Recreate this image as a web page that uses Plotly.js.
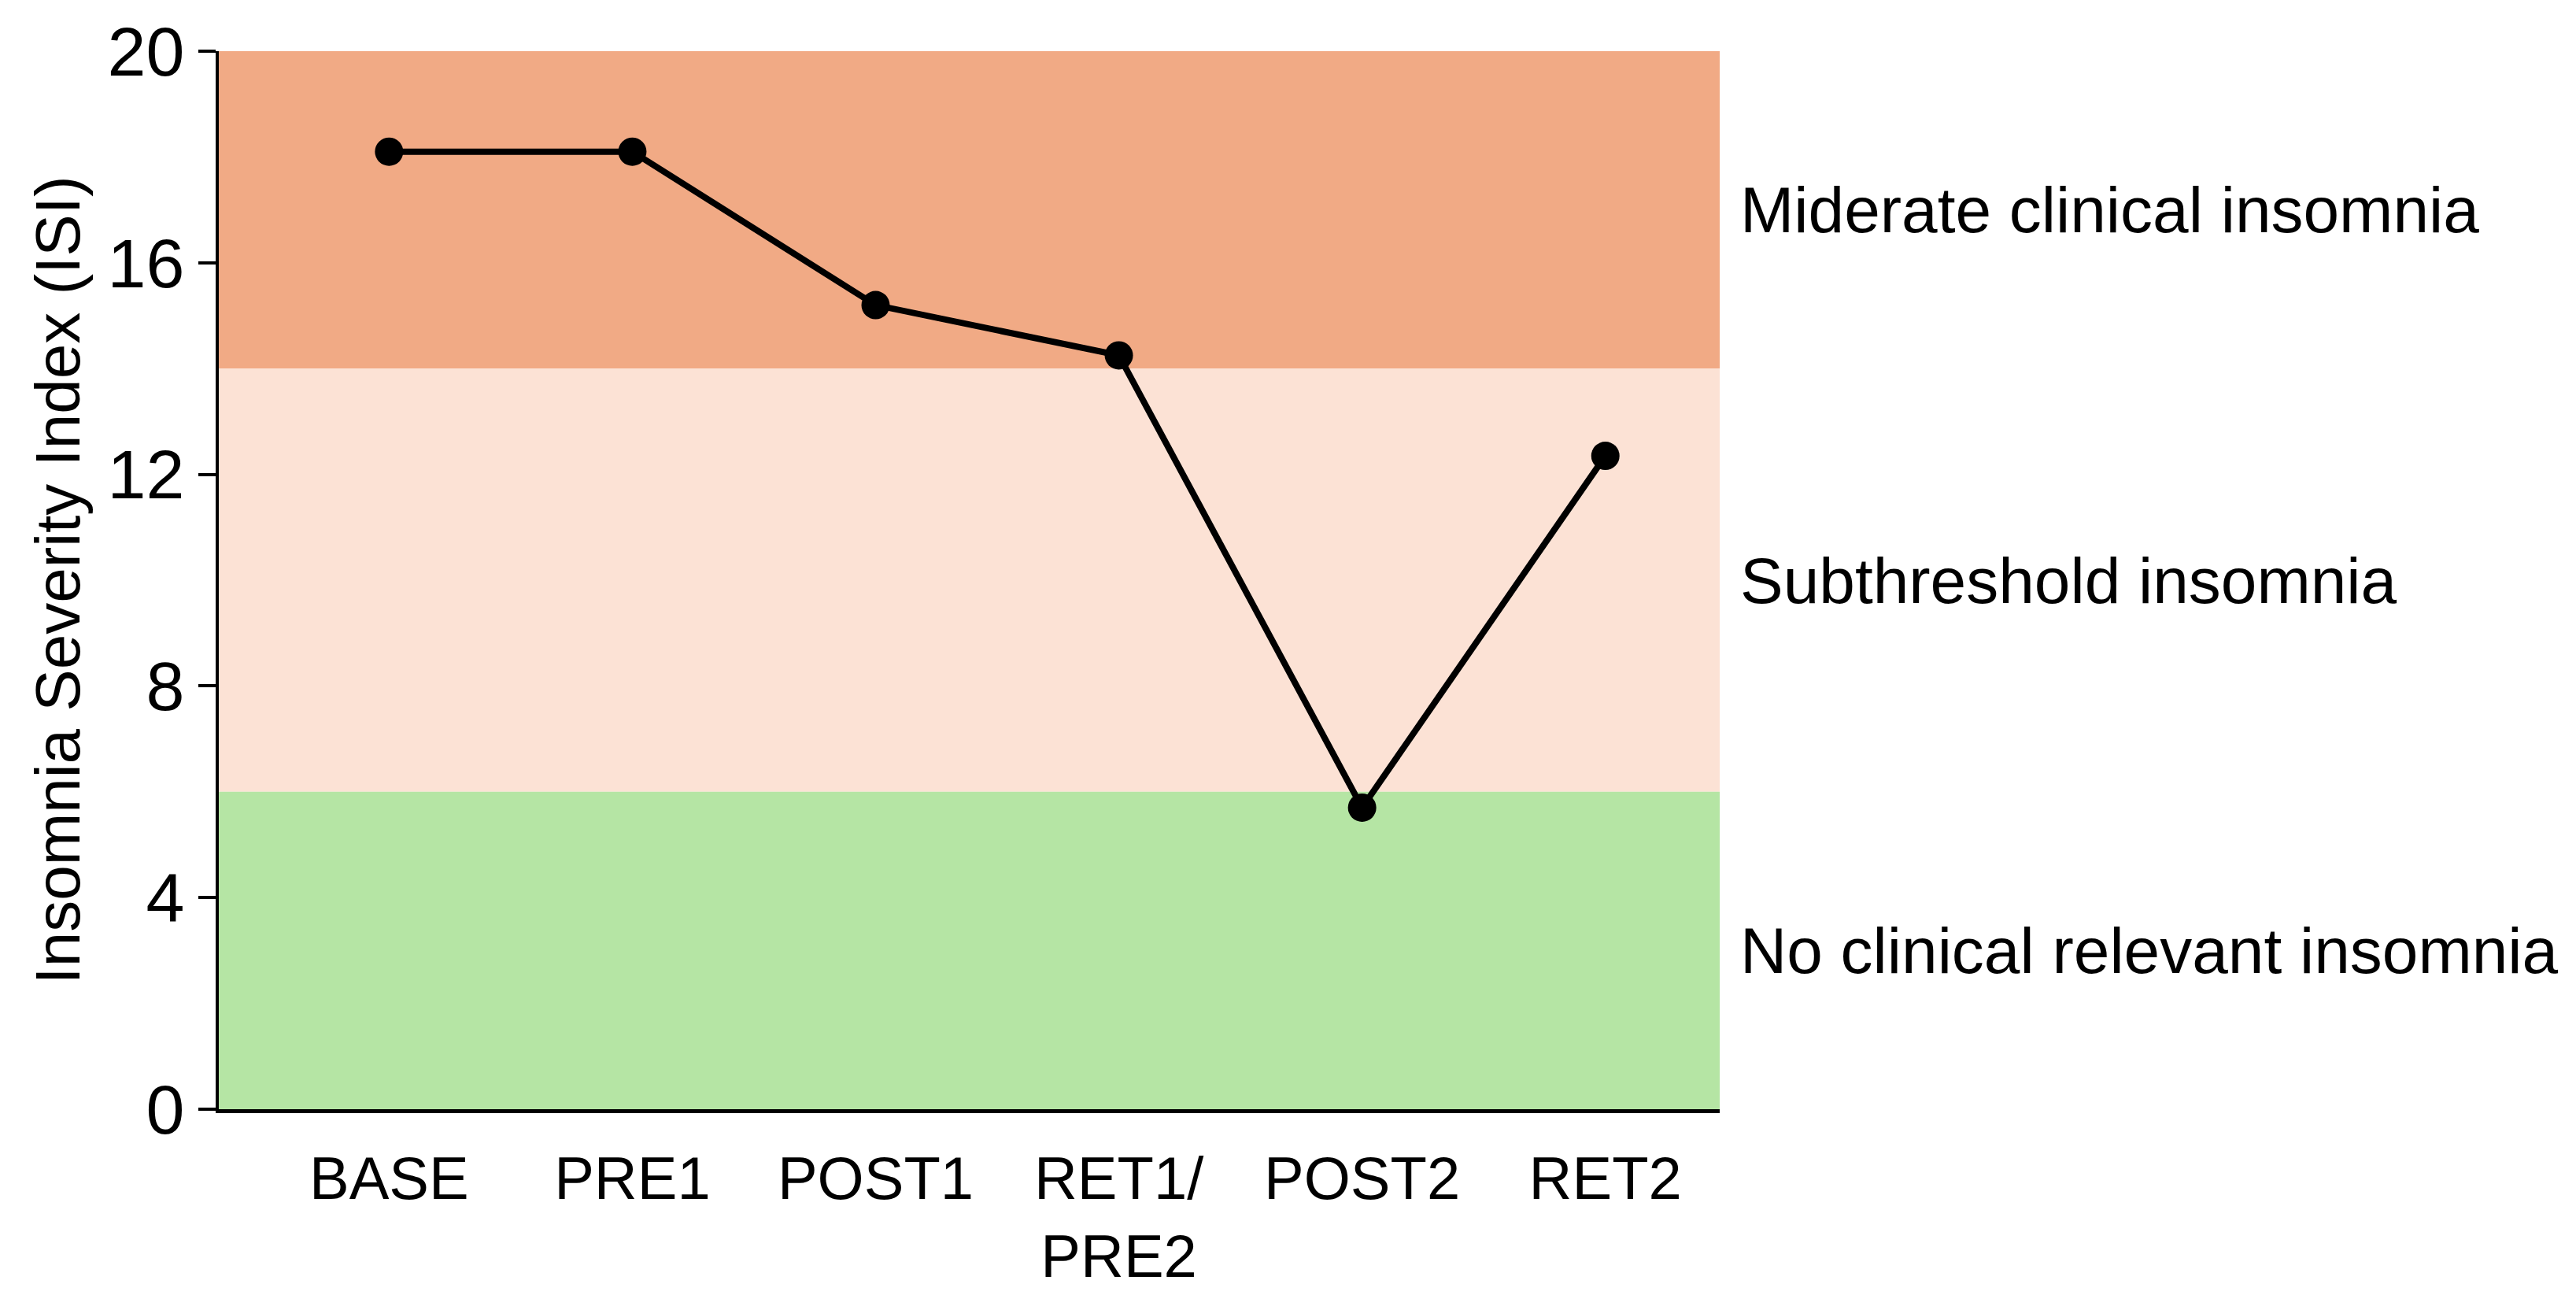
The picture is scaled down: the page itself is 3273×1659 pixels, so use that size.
<!DOCTYPE html>
<html>
<head>
<meta charset="utf-8">
<script src="https://cdn.plot.ly/plotly-3.0.1.min.js"></script>
<style>
  html, body { margin: 0; padding: 0; background: #ffffff; }
  #chart { width: 3273px; height: 1659px; }
</style>
</head>
<body>
<div id="chart"></div>
<script>
'use strict';

// Time points and mean ISI score
const timePoints = ['BASE', 'PRE1', 'POST1', 'RET1/<br>PRE2', 'POST2', 'RET2'];
const isiScores = [18.1, 18.1, 15.2, 14.25, 5.7, 12.35];

// Severity bands (lower, upper) and their labels
const bandLower = [14, 6, 0];
const bandUpper = [20, 14, 6];
const bandLabels = ['Miderate clinical insomnia', 'Subthreshold insomnia', 'No clinical relevant insomnia'];

const yTicks = [0, 4, 8, 12, 16, 20];

document.addEventListener('DOMContentLoaded', function(){

	const bandColors = ['#F1AA85', '#FCE2D5', '#B5E5A4'];
	const font = 'Liberation Sans, Arial, sans-serif';

	const shapes = [];
	const annotations = [];
	bandLabels.forEach(function(label, i) {
		shapes.push({
			type: 'rect',
			xref: 'paper', yref: 'y',
			x0: 0, x1: 1,
			y0: bandLower[i], y1: bandUpper[i],
			fillcolor: bandColors[i],
			line: {width: 0},
			layer: 'below'
		});
		annotations.push({
			xref: 'paper', yref: 'y',
			x: 1, y: (bandLower[i] + bandUpper[i]) / 2,
			xanchor: 'left', yanchor: 'middle',
			xshift: 24,
			showarrow: false,
			text: label,
			font: {family: font, size: 82, color: '#000000'}
		});
	});

	const trace = {
		x: [0, 1, 2, 3, 4, 5],
		y: isiScores,
		type: 'scatter',
		mode: 'lines+markers',
		line: {color: '#000000', width: 8},
		marker: {color: '#000000', size: 36},
		cliponaxis: false,
		hoverinfo: 'skip'
	};

	const layout = {
		width: 3273,
		height: 1659,
		margin: {l: 278, r: 1088, t: 65, b: 250},
		paper_bgcolor: '#ffffff',
		plot_bgcolor: 'rgba(0,0,0,0)',
		showlegend: false,
		font: {family: font, color: '#000000'},
		xaxis: {
			range: [-0.7, 5.47],
			tickvals: [0, 1, 2, 3, 4, 5],
			ticktext: timePoints,
			ticks: '',
			showline: true,
			linecolor: '#000000',
			linewidth: 5,
			showgrid: false,
			zeroline: false,
			tickfont: {family: font, size: 76, color: '#000000'},
			ticklabelstandoff: 18
		},
		yaxis: {
			range: [0, 20],
			tickvals: yTicks,
			ticks: 'outside',
			ticklen: 22,
			tickwidth: 4,
			tickcolor: '#000000',
			showline: true,
			linecolor: '#000000',
			linewidth: 4,
			showgrid: false,
			zeroline: false,
			tickfont: {family: font, size: 88, color: '#000000'},
			title: {
				text: 'Insomnia Severity Index (ISI)',
				font: {family: font, size: 80, color: '#000000'},
				standoff: 10
			}
		},
		shapes: shapes,
		annotations: annotations
	};

	Plotly.newPlot('chart', [trace], layout, {staticPlot: true});
});
</script>
</body>
</html>
